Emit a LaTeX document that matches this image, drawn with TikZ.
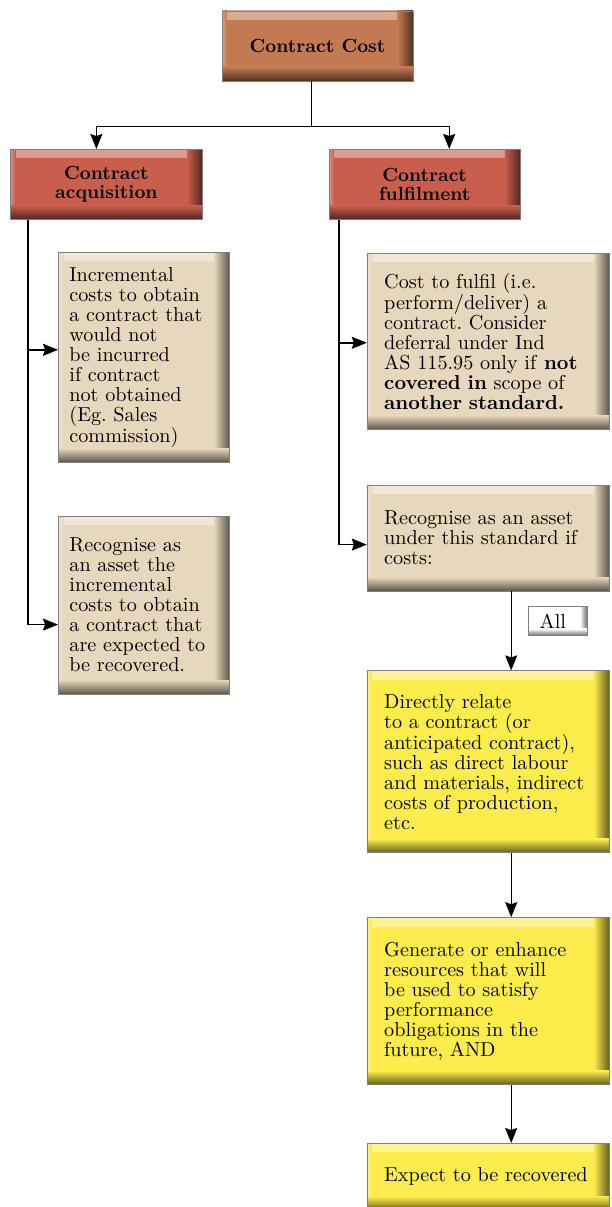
\documentclass[tikz,border=0pt]{standalone}
\usepackage{fontspec}
\setmainfont{lmroman10-regular.otf}[BoldFont=lmroman10-bold.otf]
\usepackage{xcolor}
\usetikzlibrary{positioning}
\usetikzlibrary{arrows.meta}
\frenchspacing
\definecolor{rootfill}{HTML}{C27A52}
\definecolor{branchfill}{HTML}{C95E4D}
\definecolor{notefill}{HTML}{E7D7BC}
\definecolor{goalfill}{HTML}{FCEC4C}
\tikzset{
  % A bevelled box: fill colour / width of the shaded rims
  bevel/.style 2 args={
    fill=#1, draw=black!50, line width=0.8pt,
    path picture={
      \shade[top color=white!40!#1, bottom color=#1]
        (path picture bounding box.north west) rectangle
        ([yshift=-0.6*#2]path picture bounding box.north east);
      \shade[left color=white!30!#1, right color=#1]
        (path picture bounding box.north west) rectangle
        ([xshift=0.35*#2]path picture bounding box.south west);
      \shade[left color=#1, right color=#1!40!black]
        ([xshift=-1.1*#2]path picture bounding box.north east) rectangle
        (path picture bounding box.south east);
      \shade[top color=#1, bottom color=#1!40!black]
        ([yshift=#2]path picture bounding box.south west) rectangle
        (path picture bounding box.south east);
    }},
  % The top box
  root/.style={
    bevel={rootfill}{14pt}, font=\fontsize{19}{19.5}\selectfont\bfseries,
    align=center, inner sep=0pt, minimum width=191pt, minimum height=70pt},
  % A branch heading
  head/.style={
    bevel={branchfill}{14pt}, font=\fontsize{19}{19.5}\selectfont\bfseries,
    align=center, inner sep=0pt, minimum width=192pt, minimum height=70pt},
  % A text box of the left column
  lnote/.style={
    bevel={notefill}{14pt}, font=\fontsize{20.2}{20}\selectfont, align=left,
    text width=149pt, inner xsep=11pt, inner ysep=6pt, minimum height=#1},
  % A text box of the right column
  rnote/.style={
    bevel={notefill}{14pt}, font=\fontsize{20.2}{20}\selectfont, align=left,
    text width=208pt, inner xsep=17pt, inner ysep=6pt, minimum height=#1},
  % A small label on a connector
  tag/.style={
    bevel={white}{7pt}, font=\fontsize{20.2}{20}\selectfont, align=left,
    text width=37pt, inner xsep=11pt, inner ysep=0pt, minimum height=29pt},
  % Connectors
  arr/.style={-{Stealth[length=15pt,width=12pt,inset=2pt]}, line width=1.4pt},
}
\begin{document}
\begin{tikzpicture}[x=1pt,y=1pt]
\useasboundingbox (0,0) rectangle (611,-1207);

\node[root] (cost) at (317.5,-46) {Contract Cost};

\node[head, anchor=north west] (acq) at (10,-149) {Contract\\acquisition};

\node[head, minimum width=191pt, right=126pt of acq] (ful) {Contract\\fulfilment};

\node[lnote=210pt, below=32pt of acq.south west, anchor=north west, xshift=48pt] (inc) {
  Incremental\\
  costs to obtain\\
  a contract that\\
  would not\\
  be incurred\\
  if contract\\
  not obtained\\
  (Eg. Sales\\
  commission)
};

\node[lnote=178pt, below=53pt of inc] (recl) {
  Recognise as\\
  an asset the\\
  incremental\\
  costs to obtain\\
  a contract that\\
  are expected to\\
  be recovered.
};

\node[rnote=176pt, below=33pt of ful.south west, anchor=north west, xshift=38pt] (cfl) {
  Cost to fulfil (i.e.\\
  perform/deliver) a\\
  contract. Consider\\
  deferral under Ind\\
  AS 115.95 only if \textbf{not}\\
  \textbf{covered in} scope of\\
  \textbf{another standard.}
};

\node[rnote=106pt, below=55pt of cfl] (reca) {
  Recognise as an asset\\
  under this standard if\\
  costs:
};

\coordinate (spine) at ([xshift=23pt]reca.south);

\node[tag, below right=15pt and 17pt of spine] (all) {All};

\node[rnote=182pt, bevel={goalfill}{14pt}, below=79pt of reca] (dir) {
  Directly relate\\
  to a contract (or\\
  anticipated contract),\\
  such as direct labour\\
  and materials, indirect\\
  costs of production,\\
  etc.
};

\node[rnote=167pt, bevel={goalfill}{14pt}, below=64pt of dir] (gen) {
  Generate or enhance\\
  resources that will\\
  be used to satisfy\\
  performance\\
  obligations in the\\
  future, AND
};

\node[rnote=67pt, bevel={goalfill}{14pt}, below=58pt of gen] (exp) {Expect to be recovered};

\draw[arr] ([xshift=-6pt]cost.south) -- ++(0,-45) -| ([xshift=-10pt]acq.north);
\draw[arr] ([xshift=-6pt]cost.south) -- ++(0,-45) -| ([xshift=24.5pt]ful.north);

\draw[arr] ([xshift=18pt]acq.south west) |- ([yshift=-98pt]inc.north west);
\draw[arr] ([xshift=18pt]acq.south west) |- ([yshift=-109pt]recl.north west);

\draw[arr] ([xshift=10pt]ful.south west) |- ([yshift=-90pt]cfl.north west);
\draw[arr] ([xshift=10pt]ful.south west) |- ([yshift=-60pt]reca.north west);

\draw[arr] (spine) -- (spine |- dir.north);
\draw[arr] (dir.south -| spine) -- (gen.north -| spine);
\draw[arr] (gen.south -| spine) -- (exp.north -| spine);

\end{tikzpicture}
\end{document}
